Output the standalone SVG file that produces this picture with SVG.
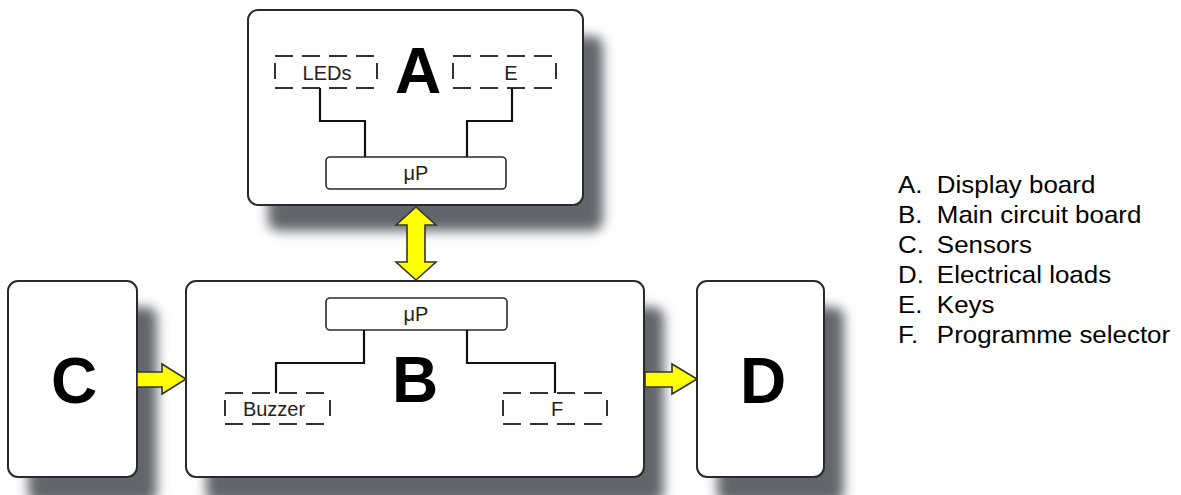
<svg xmlns="http://www.w3.org/2000/svg" width="1181" height="495" viewBox="0 0 1181 495">
  <defs>
    <filter id="blur" x="-20%" y="-20%" width="140%" height="140%">
      <feGaussianBlur stdDeviation="6"/>
    </filter>
  </defs>
  <style>
    .shadow { fill: #62666c; filter: url(#blur); }
    .box { fill: #ffffff; stroke: #2a2a2a; stroke-width: 2; }
    .chip { fill: #ffffff; stroke: #2a2a2a; stroke-width: 1.6; }
    .dash { stroke: #333333; stroke-width: 2; stroke-dasharray: 18 9; fill: none; }
    .tick { stroke: #333333; stroke-width: 2; fill: none; }
    .wire { stroke: #111111; stroke-width: 2.2; fill: none; }
    .arrow { fill: #ffff00; stroke: #333333; stroke-width: 1.6; stroke-linejoin: miter; }
    .big { font-family: "Liberation Sans", Arial, sans-serif; font-weight: bold; font-size: 64px; fill: #000; text-anchor: middle; }
    .lbl { font-family: "Liberation Sans", Arial, sans-serif; font-size: 20px; fill: #222; text-anchor: middle; }
    .leg { font-family: "Liberation Sans", Arial, sans-serif; font-size: 24px; fill: #000; }
  </style>

  <!-- shadows -->
  <g id="shadows">
    <rect class="shadow" x="268" y="36" width="335" height="195" rx="10"/>
    <rect class="shadow" x="28" y="307" width="129" height="196" rx="10"/>
    <rect class="shadow" x="206" y="307" width="458" height="196" rx="10"/>
    <rect class="shadow" x="717" y="307" width="127" height="196" rx="10"/>
  </g>

  <!-- Node A -->
  <g id="nodeA">
    <rect class="box" x="248" y="10" width="335" height="195" rx="10"/>
    <text class="big" x="418" y="93">A</text>
    <g id="A-leds">
      <line class="dash" x1="275" y1="56" x2="377" y2="56"/>
      <line class="dash" x1="275" y1="88" x2="377" y2="88"/>
      <line class="tick" x1="275" y1="63" x2="275" y2="79"/>
      <line class="tick" x1="377" y1="63" x2="377" y2="79"/>
      <text class="lbl" x="327" y="80">LEDs</text>
    </g>
    <g id="A-keys">
      <line class="dash" x1="453" y1="56" x2="556" y2="56"/>
      <line class="dash" x1="453" y1="88" x2="556" y2="88"/>
      <line class="tick" x1="453" y1="63" x2="453" y2="79"/>
      <line class="tick" x1="556" y1="63" x2="556" y2="79"/>
      <text class="lbl" x="511" y="80">E</text>
    </g>
    <g id="A-up">
      <rect class="chip" x="326" y="157" width="180" height="32" rx="4"/>
      <text class="lbl" x="416" y="180">μP</text>
    </g>
  </g>

  <!-- Node B -->
  <g id="nodeB">
    <rect class="box" x="186" y="281" width="458" height="196" rx="10"/>
    <text class="big" x="415" y="402">B</text>
    <g id="B-up">
      <rect class="chip" x="326" y="298" width="181" height="32" rx="4"/>
      <text class="lbl" x="416" y="321">μP</text>
    </g>
    <g id="B-buzzer">
      <line class="dash" x1="225" y1="393" x2="330" y2="393"/>
      <line class="dash" x1="225" y1="424" x2="330" y2="424"/>
      <line class="tick" x1="225" y1="400" x2="225" y2="416"/>
      <line class="tick" x1="330" y1="400" x2="330" y2="416"/>
      <text class="lbl" x="274" y="416">Buzzer</text>
    </g>
    <g id="B-selector">
      <line class="dash" x1="503" y1="393" x2="607" y2="393"/>
      <line class="dash" x1="503" y1="424" x2="607" y2="424"/>
      <line class="tick" x1="503" y1="400" x2="503" y2="416"/>
      <line class="tick" x1="607" y1="400" x2="607" y2="416"/>
      <text class="lbl" x="557" y="416">F</text>
    </g>
  </g>

  <!-- Node C -->
  <g id="nodeC">
    <rect class="box" x="8" y="281" width="129" height="196" rx="10"/>
    <text class="big" x="74" y="403">C</text>
  </g>

  <!-- Node D -->
  <g id="nodeD">
    <rect class="box" x="697" y="281" width="127" height="196" rx="10"/>
    <text class="big" x="763" y="403">D</text>
  </g>

  <!-- Connectors -->
  <g id="connectors">
    <path class="wire" d="M320,88 V121 H365 V157"/>
    <path class="wire" d="M512,88 V121 H467 V157"/>
    <path class="wire" d="M364,330 V363 H276 V393"/>
    <path class="wire" d="M467,330 V363 H555 V393"/>
    <path class="arrow" d="M416,207 L436,225 L425,225 L425,262 L436,262 L416,280 L396,262 L407,262 L407,225 L396,225 Z"/>
    <path class="arrow" d="M137,372 L162,372 L162,364 L186,379 L162,394 L162,387 L137,387 Z"/>
    <path class="arrow" d="M645,372 L672,372 L672,364 L697,379 L672,394 L672,387 L645,387 Z"/>
  </g>

  <!-- Legend -->
  <g id="legend" class="leg" transform="translate(898,0) scale(1.08,1)">
    <text x="0" y="193">A.</text><text x="36" y="193">Display board</text>
    <text x="0" y="223">B.</text><text x="36" y="223">Main circuit board</text>
    <text x="0" y="253">C.</text><text x="36" y="253">Sensors</text>
    <text x="0" y="283">D.</text><text x="36" y="283">Electrical loads</text>
    <text x="0" y="313">E.</text><text x="36" y="313">Keys</text>
    <text x="0" y="343">F.</text><text x="36" y="343">Programme selector</text>
  </g>
</svg>
